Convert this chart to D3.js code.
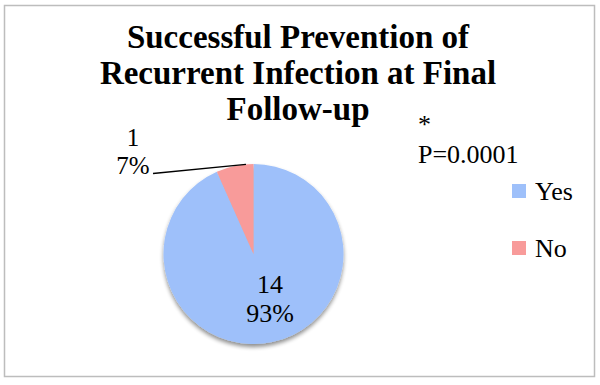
<!DOCTYPE html>
<html>
<head>
<meta charset="utf-8">
<script src="https://cdn.jsdelivr.net/npm/d3@7"></script>
<style>
  html, body { margin: 0; padding: 0; background: #fff; }
  svg { display: block; }
  text { font-family: "Liberation Serif", "DejaVu Serif", serif; fill: #000; }
</style>
</head>
<body>
<svg id="chart" width="600" height="385"></svg>
<script>
const categories = ["Yes", "No"];
const counts = [14, 1];
const percents = ["93%", "7%"];
const colors = ["#9ec0fa", "#f89b9a"];
const titleLines = ["Successful Prevention of", "Recurrent Infection at Final", "Follow-up"];
const annotation = ["*", "P=0.0001"];

const svg = d3.select("#chart");

// border
svg.append("rect").attr("x", 4.5).attr("y", 5.5).attr("width", 590).attr("height", 371)
  .attr("fill", "#fff").attr("stroke", "#bdbdbd").attr("stroke-width", 1.5);

const defs = svg.append("defs");
const f = defs.append("filter").attr("id", "shadow").attr("x", "-20%").attr("y", "-20%").attr("width", "140%").attr("height", "140%");
f.append("feGaussianBlur").attr("in", "SourceAlpha").attr("stdDeviation", 2.2).attr("result", "b");
f.append("feOffset").attr("in", "b").attr("dx", 0).attr("dy", 2.5).attr("result", "o");
f.append("feComponentTransfer").attr("in", "o").attr("result", "s")
  .append("feFuncA").attr("type", "linear").attr("slope", 0.45);
const m = f.append("feMerge");
m.append("feMergeNode").attr("in", "s");
m.append("feMergeNode").attr("in", "SourceGraphic");

// title
const title = svg.append("text").attr("text-anchor", "middle")
  .attr("font-weight", "bold").attr("font-size", 33);
titleLines.forEach((t, i) => {
  title.append("tspan").attr("x", 298).attr("y", 48 + i * 36).text(t);
});

// pie
const cx = 253.5, cy = 254, r = 90;
const pie = d3.pie().sort(null).value(d => d)(counts);
const arc = d3.arc().innerRadius(0).outerRadius(r);
const g = svg.append("g").attr("transform", `translate(${cx},${cy})`);
g.append("g").attr("filter", "url(#shadow)")
  .selectAll("path").data(pie).join("path")
  .attr("d", arc).attr("fill", (d, i) => colors[i]);

// Yes label inside
const yesLabel = svg.append("text").attr("text-anchor", "middle").attr("font-size", 26);
yesLabel.append("tspan").attr("x", 270).attr("y", 293).text(counts[0]);
yesLabel.append("tspan").attr("x", 270).attr("y", 322).text(percents[0]);

// No label outside with leader
const noArc = pie[1];
const a = noArc.startAngle + (noArc.endAngle - noArc.startAngle) * 0.8;
const edge = [cx + Math.sin(a) * r, cy - Math.cos(a) * r];
svg.append("line").attr("x1", 153).attr("y1", 173.5).attr("x2", edge[0]).attr("y2", edge[1])
  .attr("stroke", "#000").attr("stroke-width", 1.3);
const noLabel = svg.append("text").attr("text-anchor", "middle").attr("font-size", 25);
noLabel.append("tspan").attr("x", 133).attr("y", 146).text(counts[1]);
noLabel.append("tspan").attr("x", 133).attr("y", 174).text(percents[1]);

// annotation
svg.append("text").attr("x", 418).attr("y", 133).attr("font-size", 26).text(annotation[0]);
svg.append("text").attr("x", 418).attr("y", 163).attr("font-size", 26).text(annotation[1]);

// legend
const leg = svg.append("g");
categories.forEach((c, i) => {
  const y = 184 + i * 57;
  leg.append("rect").attr("x", 512).attr("y", y).attr("width", 14).attr("height", 14).attr("fill", colors[i]);
  leg.append("text").attr("x", 535).attr("y", y + 16).attr("font-size", 26).text(c);
});
</script>
</body>
</html>
